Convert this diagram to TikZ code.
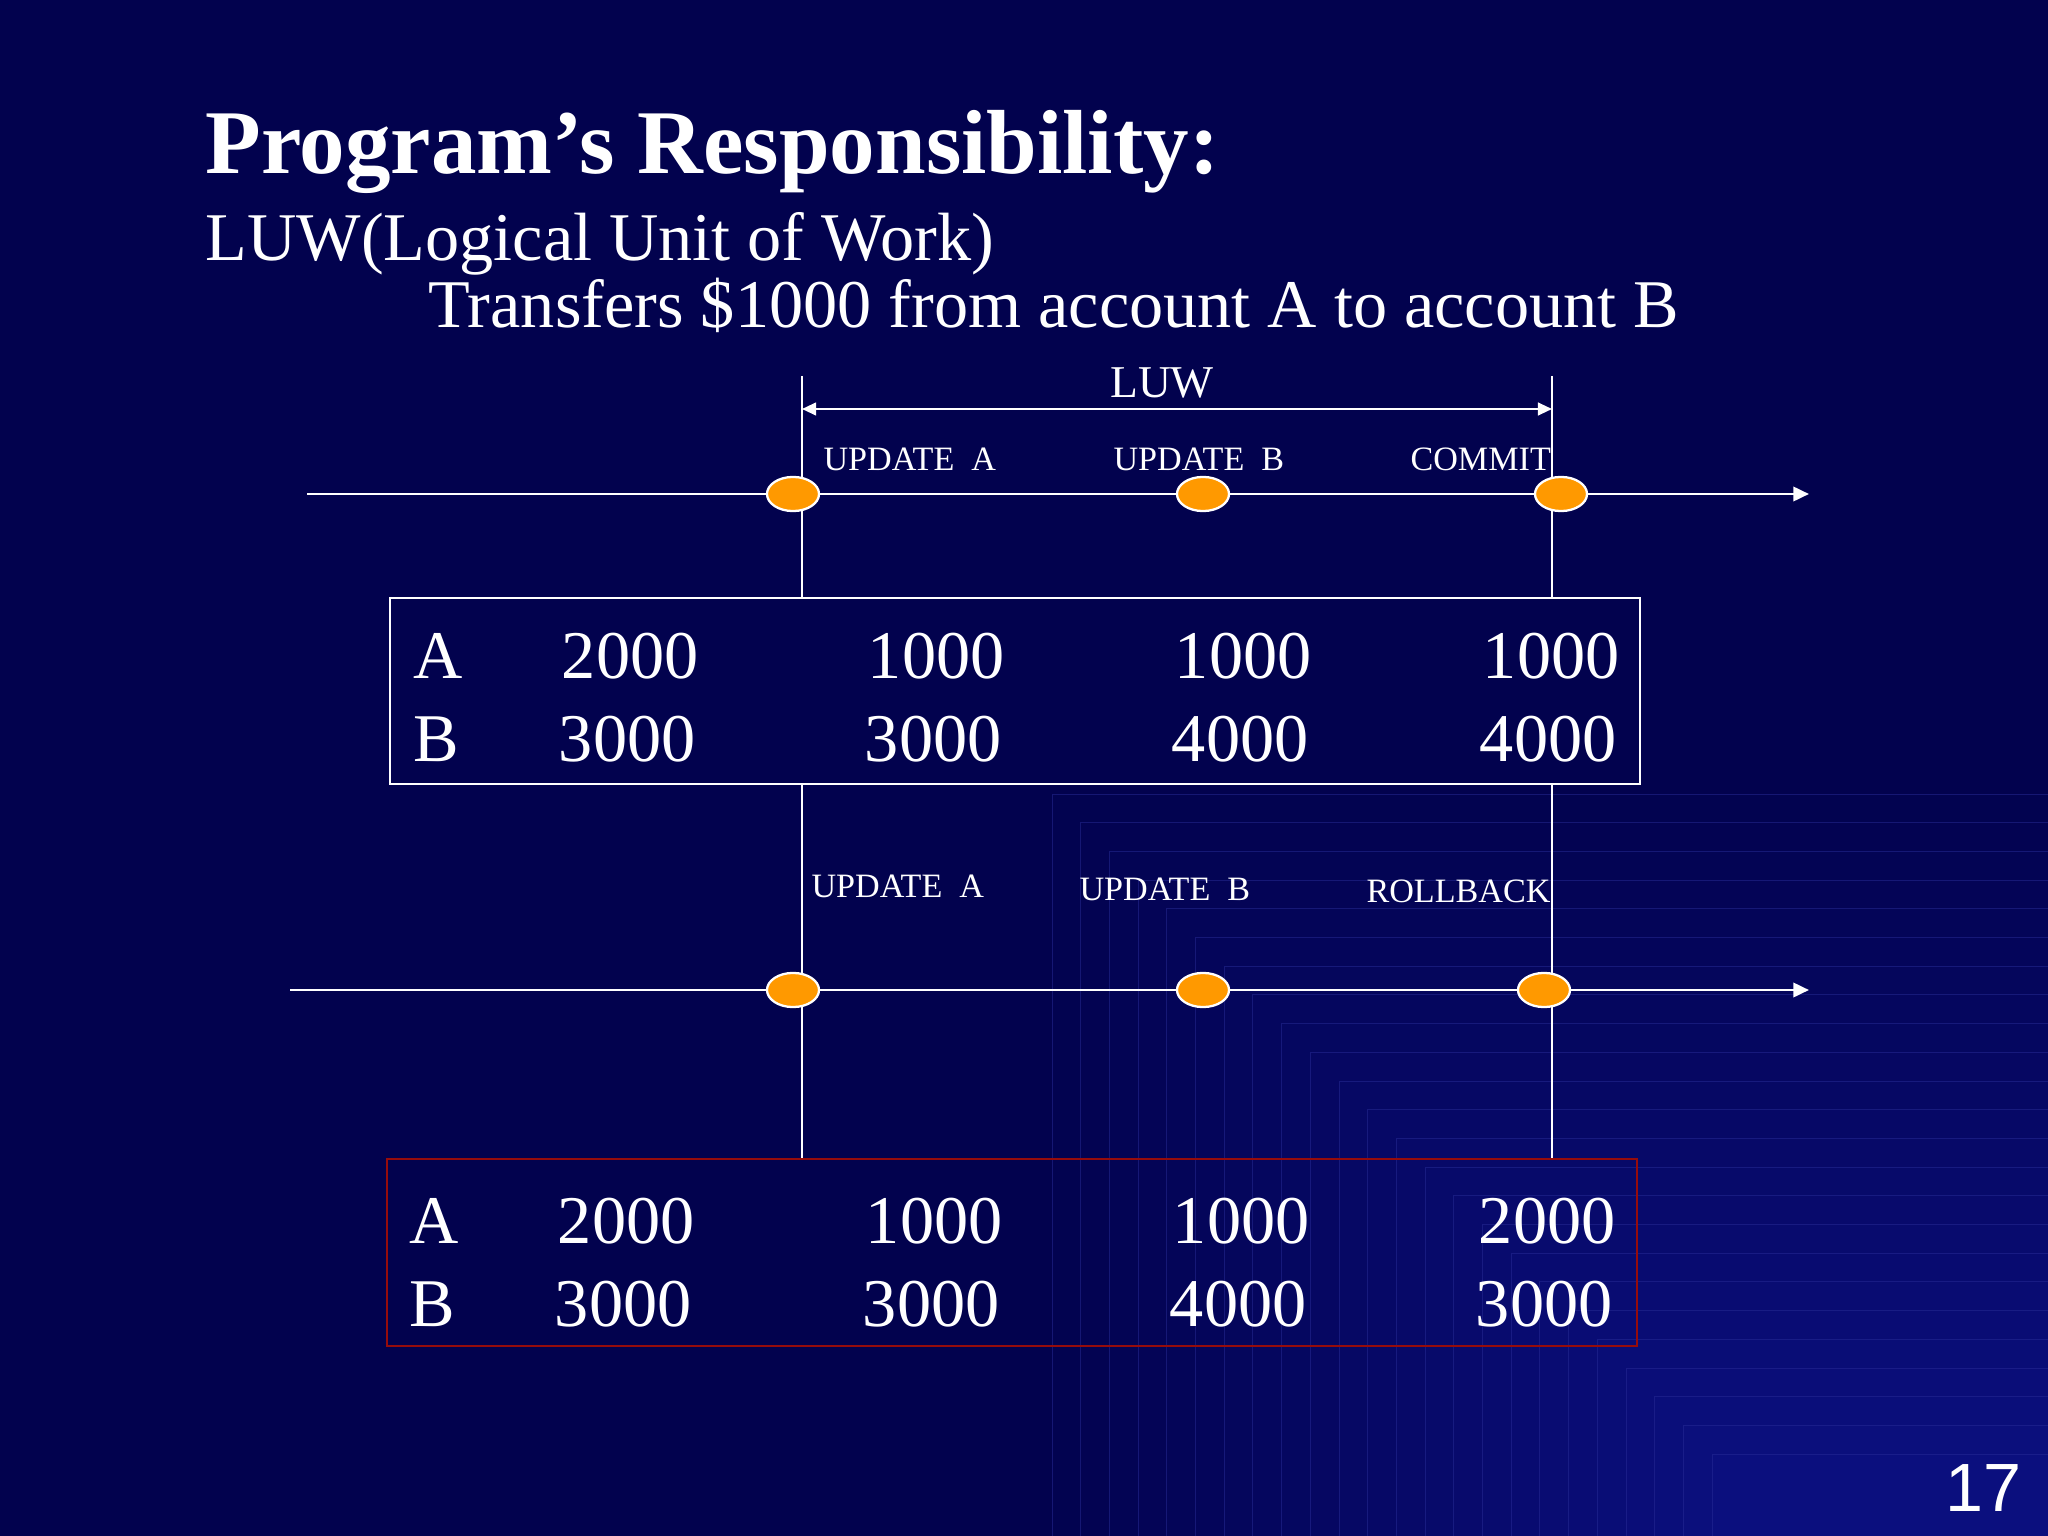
\documentclass[tikz,border=0pt]{standalone}
\usepackage{fontspec}
\setmainfont{Liberation Serif}
\setsansfont{Liberation Sans}
\usepackage{xcolor}
\usetikzlibrary{arrows,arrows.meta,shapes.geometric}

\definecolor{slidebg}{RGB}{2,2,78}
\definecolor{slidecorner}{RGB}{11,15,126}
\definecolor{edgeblue}{RGB}{40,44,150}
\definecolor{dotorange}{RGB}{255,153,0}
\definecolor{boxred}{RGB}{150,12,12}

\tikzset{
  event/.style={ellipse,draw=white,line width=0.8pt,fill=dotorange,
    minimum width=18.3pt,minimum height=12pt,inner sep=0pt},
  steplabel/.style={text=white,font=\fontsize{12}{14}\selectfont,
    anchor=base west,inner sep=0pt},
  acct/.style={text=white,font=\fontsize{24}{28}\selectfont,
    anchor=base west,inner sep=0pt},
  amount/.style={text=white,font=\fontsize{24}{28}\selectfont,
    anchor=base east,inner sep=0pt},
  valbox/.style={draw,line width=0.7pt,minimum width=439.45pt,
    minimum height=65.4pt,inner sep=0pt},
  timeline/.style={white,line width=1pt,-{Triangle[length=5.5pt,width=5pt]}},
  guide/.style={white,line width=0.7pt}
}

\begin{document}
\begin{tikzpicture}[x=0.3515625pt,y=-0.3515625pt]
      % Slide background with the stepped corner
      \useasboundingbox (0,0) rectangle (2048,1536);
      \fill[slidebg] (0,0) rectangle (2048,1536);
      \foreach \i in {0,...,23} {
        \pgfmathsetmacro{\pct}{100*(\i+1)/24}
        \pgfmathsetmacro{\sx}{1052+28.7*\i}
        \pgfmathsetmacro{\sy}{794+28.7*\i}
        \fill[slidecorner!\pct!slidebg] (\sx,\sy) rectangle (2048,1536);
        \draw[edgeblue,line width=0.3pt,opacity=0.5] (2048,\sy) -- (\sx,\sy) -- (\sx,1536);
      }

      % Heading
      \node[anchor=base west,inner sep=0pt,text=white,
        font=\fontsize{32}{38}\selectfont\bfseries] (title) at (205,174)
        {Program’s Responsibility:};
      \node[anchor=base west,inner sep=0pt,text=white,
        font=\fontsize{24}{28}\selectfont] (luwline) at (205,261)
        {LUW(Logical Unit of Work)};
      \node[anchor=base west,inner sep=0pt,text=white,
        font=\fontsize{24}{28}\selectfont] (transfer) at (428,328)
        {Transfers \$1000 from account A to account B};

      % The two value boxes
      \node[valbox,draw=white] (box1) at (1015,691) {};
      \node[valbox,draw=boxred] (box2) at (1012,1252.5) {};

      % Boundaries of the LUW
      \coordinate (luwL) at (802,376);
      \coordinate (luwR) at (1552,376);
      \draw[guide] (luwL) -- (luwL |- box1.north);
      \draw[guide] (luwR) -- (luwR |- box1.north);
      \draw[guide] (luwL |- box1.south) -- (luwL |- box2.north);
      \draw[guide] (luwR |- box1.south) -- (luwR |- box2.north);

      % LUW span
      \coordinate (spanL) at (802,409);
      \coordinate (spanR) at (1552,409);
      \draw[white,line width=0.8pt,
        {Triangle[length=5pt,width=4.5pt]}-{Triangle[length=5pt,width=4.5pt]}]
        (spanL) -- (spanR);
      \node[anchor=base,inner sep=0pt,text=white,
        font=\fontsize{16}{19}\selectfont] (luw) at (1162,398) {LUW};

      % First run: commit
      \coordinate (t1s) at (307,494);
      \coordinate (t1e) at (1809,494);
      \draw[timeline] (t1s) -- (t1e);
      \node[event] (c1) at (793,494) {};
      \node[event] (c2) at (1203,494) {};
      \node[event] (c3) at (1561,494) {};
      \node[steplabel] (cl1) at (823,471) {UPDATE\ \ A};
      \node[steplabel] (cl2) at (1113,471) {UPDATE\ \ B};
      \node[steplabel] (cl3) at (1410,471) {COMMIT};

      % Second run: rollback
      \coordinate (t2s) at (290,990);
      \coordinate (t2e) at (1809,990);
      \draw[timeline] (t2s) -- (t2e);
      \node[event] (r1) at (793,990) {};
      \node[event] (r2) at (1203,990) {};
      \node[event] (r3) at (1544,990) {};
      \node[steplabel] (rl1) at (811,897) {UPDATE\ \ A};
      \node[steplabel] (rl2) at (1079,900) {UPDATE\ \ B};
      \node[steplabel] (rl3) at (1366,902) {ROLLBACK};

      % Balances after commit
      \node[acct] (ca) at (413,679) {A};
      \node[acct] (cb) at (413,761) {B};
      \foreach \a/\b/\x [count=\c] in {2000/3000/699,1000/3000/1005,
                                       1000/4000/1312,1000/4000/1620} {
        \node[amount] (ca\c) at (\x,679) {\a};
        \node[amount] (cb\c) at (\x-3,761) {\b};
      }

      % Balances after rollback
      \node[acct] (ra) at (409,1243) {A};
      \node[acct] (rb) at (409,1326) {B};
      \foreach \a/\b/\x [count=\c] in {2000/3000/695,1000/3000/1003,
                                       1000/4000/1310,2000/3000/1616} {
        \node[amount] (ra\c) at (\x,1243) {\a};
        \node[amount] (rb\c) at (\x-3,1326) {\b};
      }

      % Slide number
      \node[anchor=base east,inner sep=0pt,text=white,
        font=\sffamily\fontsize{24}{28}\selectfont] (pagenum) at (2022,1511) {17};
    \end{tikzpicture}
\end{document}
